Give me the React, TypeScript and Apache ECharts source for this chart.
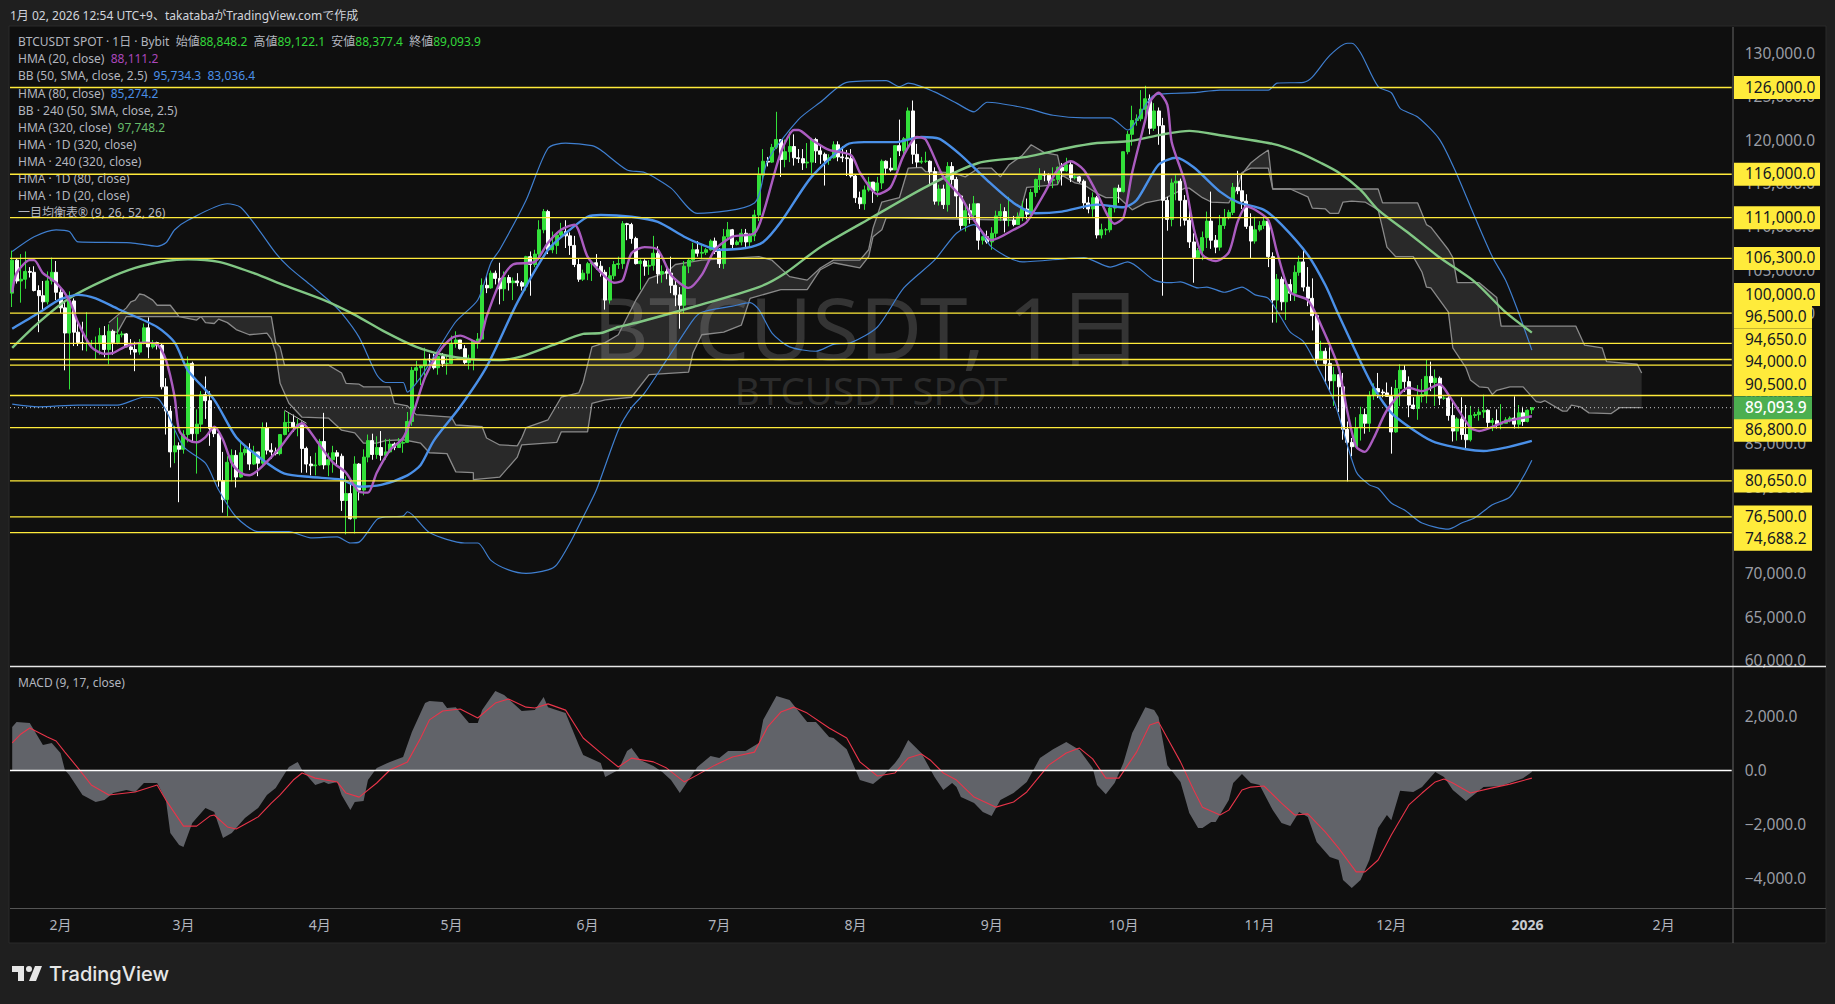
import { useEffect, useRef } from 'react';
import * as echarts from 'echarts';

const FONT = '"Noto Sans", "Noto Sans CJK JP", sans-serif';

// 日足 [open, close, low, high]（千USDT）
const jan25 = [[102.3,106.1,100.7,107.2],[106.1,103.7,103.4,106.3],[103.7,103.9,101.2,106.8],[103.9,104.8,102.8,107.1],[104.8,104.7,104.1,105.3],[104.7,102.6,102.5,105.4],[102.6,102.0,97.8,103.2],[102.0,101.3,100.3,103.7],[101.3,103.7,101.0,104.8],[103.7,104.7,103.3,106.4],[104.7,102.4,101.5,106.0]];
const feb25 = [[102.4,100.6,100.0,102.8],[100.6,97.7,93.4,101.4],[97.7,101.4,91.2,102.5],[101.4,97.8,96.2,101.7],[97.8,96.6,96.2,99.0],[96.6,96.5,95.7,99.0],[96.5,96.5,95.6,100.1],[96.5,96.5,96.2,96.9],[96.5,96.5,94.7,97.3],[96.5,97.4,95.2,98.3],[97.4,95.8,94.9,98.5],[95.8,97.9,94.1,98.7],[97.9,96.6,95.2,98.1],[96.6,97.5,96.4,99.5],[97.5,97.6,97.2,97.9],[97.6,96.1,96.1,97.7],[96.1,95.8,95.2,97.0],[95.8,95.5,93.3,96.7],[95.5,96.6,95.2,97.0],[96.6,98.3,96.4,98.8],[98.3,96.1,94.8,99.5],[96.1,96.6,95.9,96.9],[96.6,96.3,95.8,96.7],[96.3,91.5,91.2,96.5],[91.5,88.7,86.0,92.5],[88.7,84.0,82.2,89.3],[84.0,84.7,82.7,87.0],[84.7,84.3,78.2,85.1]];
const mar25 = [[84.3,86.0,83.8,86.5],[86.0,94.2,85.1,95.0],[94.2,86.1,85.1,94.4],[86.1,87.2,81.5,88.9],[87.2,90.6,86.3,91.0],[90.6,89.9,87.8,92.7],[89.9,86.7,84.7,91.0],[86.7,86.1,85.7,86.9],[86.1,80.7,80.0,86.3],[80.7,78.5,77.0,84.0],[78.5,82.8,76.6,83.5],[82.8,83.6,80.6,84.3],[83.6,81.1,79.9,84.2],[81.1,83.9,81.0,85.3],[83.9,84.3,83.6,84.6],[84.3,82.6,81.9,85.0],[82.6,84.0,82.5,84.7],[84.0,82.7,81.2,84.0],[82.7,86.8,82.5,87.4],[86.8,84.2,83.7,87.4],[84.2,84.0,83.2,85.0],[84.0,83.8,83.6,84.5],[83.8,86.0,83.6,86.0],[86.0,87.4,85.9,88.7],[87.4,87.4,86.3,88.5],[87.4,86.9,86.3,88.3],[86.9,87.2,85.8,87.8],[87.2,84.4,81.6,87.5],[84.4,82.6,81.6,84.6],[82.6,82.4,81.3,83.5],[82.4,82.5,81.3,83.9]];
const apr25 = [[82.5,85.2,82.4,85.5],[85.2,82.5,82.0,88.5],[82.5,83.1,81.2,83.9],[83.1,83.9,81.6,84.7],[83.9,83.5,82.4,84.2],[83.5,78.4,77.2,83.8],[78.4,79.2,74.5,81.2],[79.2,76.3,76.2,80.8],[76.3,82.6,74.6,83.5],[82.6,79.6,78.4,82.7],[79.6,83.4,79.0,84.3],[83.4,85.3,82.8,86.0],[85.3,83.7,83.1,86.1],[83.7,84.5,83.2,85.8],[84.5,83.6,83.0,86.4],[83.6,84.0,83.1,85.5],[84.0,84.9,83.9,85.5],[84.9,84.5,84.2,85.1],[84.5,85.0,84.5,85.6],[85.0,85.1,83.9,85.3],[85.1,87.5,85.1,88.6],[87.5,93.4,87.0,93.8],[93.4,93.7,91.9,94.5],[93.7,93.9,91.7,94.0],[93.9,94.7,92.8,96.0],[94.7,94.6,93.9,95.3],[94.6,93.7,93.5,95.3],[93.7,95.0,92.9,95.6],[95.0,94.2,93.8,95.4],[94.2,94.2,92.9,95.1]];
const may25 = [[94.2,96.5,94.1,97.4],[96.5,96.9,96.0,97.9],[96.9,95.9,95.8,96.9],[95.9,94.3,94.1,96.3],[94.3,94.7,93.5,95.2],[94.7,96.8,93.4,96.9],[96.8,97.0,95.9,97.7],[97.0,103.2,97.0,104.0],[103.2,102.9,102.3,104.3],[102.9,104.6,102.8,104.9],[104.6,104.0,103.3,104.9],[104.0,102.8,101.0,105.8],[102.8,104.1,101.4,104.8],[104.1,103.5,102.6,104.4],[103.5,103.7,101.5,104.1],[103.7,103.5,103.1,104.6],[103.5,103.1,102.6,103.7],[103.1,106.5,102.6,106.6],[106.5,105.6,102.0,107.1],[105.6,106.8,105.3,107.3],[106.8,109.6,106.1,110.7],[109.6,111.7,109.2,112.0],[111.7,107.3,106.8,111.9],[107.3,107.8,106.9,109.4],[107.8,109.0,106.8,109.3],[109.0,109.4,108.8,110.4],[109.4,108.9,107.5,110.7],[108.9,107.8,106.7,109.3],[107.8,105.6,105.3,108.9],[105.6,103.9,103.6,106.3],[103.9,104.6,103.7,105.0]];
const jun25 = [[104.6,105.7,103.8,105.9],[105.7,105.8,103.7,105.9],[105.8,105.4,105.0,106.8],[105.4,104.7,104.2,106.0],[104.7,101.5,100.4,105.0],[101.5,104.3,101.1,105.3],[104.3,105.6,103.9,106.0],[105.6,105.7,105.1,106.5],[105.7,110.3,105.1,110.6],[110.3,110.2,108.4,110.4],[110.2,108.6,108.0,110.4],[108.6,105.7,105.6,108.8],[105.7,106.0,102.7,106.2],[106.0,105.4,104.3,106.2],[105.4,105.5,104.4,106.1],[105.5,106.9,104.9,108.9],[106.9,104.5,103.4,107.7],[104.5,104.8,103.5,105.5],[104.8,104.6,103.9,105.3],[104.6,103.2,102.3,106.5],[103.2,102.1,100.8,104.0],[102.1,100.9,98.2,103.0],[100.9,105.4,100.0,106.0],[105.4,106.1,104.6,106.3],[106.1,107.3,105.9,108.1],[107.3,106.9,106.5,108.3],[106.9,107.0,106.2,108.0],[107.0,107.3,106.7,107.5],[107.3,108.3,107.2,108.5],[108.3,107.1,106.8,108.7]];
const jul25 = [[107.1,105.7,105.2,107.5],[105.7,108.8,105.1,109.7],[108.8,109.6,108.6,110.5],[109.6,107.9,107.3,109.7],[107.9,108.2,107.8,108.4],[108.2,109.2,107.8,109.7],[109.2,108.2,107.5,109.7],[108.2,108.9,107.5,109.2],[108.9,111.3,108.3,111.9],[111.3,115.9,110.6,116.8],[115.9,117.5,115.2,118.9],[117.5,117.4,116.9,118.0],[117.4,119.1,117.3,119.5],[119.1,120.0,118.9,123.2],[120.0,117.7,115.7,120.0],[117.7,118.6,116.8,120.0],[118.6,119.2,117.4,120.9],[119.2,117.9,117.0,120.6],[117.9,117.8,117.3,118.9],[117.8,117.3,116.5,118.9],[117.3,117.4,116.7,119.6],[117.4,120.0,116.1,120.2],[120.0,118.7,117.3,120.2],[118.7,118.3,117.2,119.4],[118.3,117.6,114.7,118.5],[117.6,117.9,117.1,118.3],[117.9,119.4,117.8,119.8],[119.4,118.0,117.5,119.8],[118.0,117.9,117.4,119.2],[117.9,117.8,115.8,118.8],[117.8,115.8,115.6,118.9]];
const aug25 = [[115.8,113.3,112.7,116.0],[113.3,112.6,112.0,114.0],[112.6,114.2,111.9,114.7],[114.2,115.1,114.0,115.7],[115.1,114.1,112.7,115.1],[114.1,115.0,113.4,115.7],[115.0,117.5,114.3,117.7],[117.5,116.7,115.9,117.6],[116.7,116.5,116.3,117.9],[116.5,119.3,116.5,119.3],[119.3,118.7,118.1,122.3],[118.7,120.1,118.2,120.3],[120.1,123.3,118.9,123.7],[123.3,118.3,117.2,124.5],[118.3,117.4,116.8,119.5],[117.4,117.5,117.2,118.0],[117.5,117.5,117.3,118.6],[117.5,116.3,114.7,117.6],[116.3,112.9,112.5,116.8],[112.9,114.3,112.4,114.8],[114.3,112.5,112.0,114.8],[112.5,116.9,111.7,117.4],[116.9,115.4,114.8,117.4],[115.4,113.5,111.0,115.7],[113.5,110.1,109.6,113.6],[110.1,111.8,109.4,112.4],[111.8,111.3,110.3,112.6],[111.3,112.6,110.9,113.5],[112.6,108.4,107.3,112.6],[108.4,108.8,107.9,108.9],[108.8,108.2,108.0,109.5]];
const sep25 = [[108.2,109.2,107.3,109.9],[109.2,111.2,108.7,111.8],[111.2,111.7,110.6,112.6],[111.7,110.7,109.3,112.2],[110.7,110.7,110.0,113.4],[110.7,110.2,110.0,111.2],[110.2,111.1,110.2,111.6],[111.1,112.0,110.6,112.9],[112.0,111.4,110.8,113.2],[111.4,113.9,111.0,114.3],[113.9,115.4,113.4,115.5],[115.4,116.0,114.2,116.7],[116.0,115.9,115.2,116.4],[115.9,115.3,114.8,116.1],[115.3,115.4,114.4,116.8],[115.4,116.8,114.9,116.9],[116.8,116.4,114.7,117.3],[116.4,117.1,116.3,117.9],[117.1,115.6,115.1,117.5],[115.6,115.7,115.4,116.1],[115.7,115.2,115.0,115.8],[115.2,112.7,112.0,115.4],[112.7,112.0,111.5,113.4],[112.0,113.3,111.1,113.9],[113.3,109.0,108.6,113.5],[109.0,109.6,108.6,110.3],[109.6,109.6,109.0,109.8],[109.6,112.1,109.3,112.4],[112.1,114.4,111.6,114.4],[114.4,114.0,112.7,114.8]];
const oct25 = [[114.0,118.6,113.9,118.6],[118.6,120.6,118.3,121.0],[120.6,122.2,119.3,123.9],[122.2,122.4,121.6,122.9],[122.4,123.5,122.1,125.7],[123.5,124.7,122.7,126.2],[124.7,121.3,120.6,125.2],[121.3,123.3,121.0,124.2],[123.3,121.6,119.4,123.7],[121.6,113.0,102.0,122.5],[113.0,110.8,109.5,113.4],[110.8,115.0,110.0,115.5],[115.0,115.2,113.0,116.0],[115.2,113.0,110.0,115.5],[113.0,110.7,110.1,113.6],[110.7,108.2,107.5,111.9],[108.2,106.4,103.5,109.2],[106.4,107.2,106.4,107.5],[107.2,108.7,106.1,109.4],[108.7,110.6,107.5,111.7],[110.6,108.4,107.4,114.0],[108.4,107.6,106.9,109.0],[107.6,110.1,107.2,111.3],[110.1,111.0,109.7,112.0],[111.0,111.6,110.8,111.9],[111.6,114.5,111.3,115.0],[114.5,114.1,113.7,116.4],[114.1,112.9,112.0,116.0],[112.9,110.0,109.7,113.7],[110.0,108.3,106.3,111.5],[108.3,109.6,108.0,111.1]];
const nov25 = [[109.6,110.1,109.4,110.6],[110.1,110.6,109.7,111.2],[110.6,106.5,105.3,110.7],[106.5,101.5,98.9,107.0],[101.5,103.9,98.9,104.5],[103.9,101.3,100.3,104.2],[101.3,103.3,99.2,104.0],[103.3,102.3,101.4,103.9],[102.3,104.7,101.4,105.5],[104.7,105.9,104.3,106.6],[105.9,103.0,102.5,107.5],[103.0,101.7,100.8,105.3],[101.7,99.7,98.0,104.0],[99.7,94.6,94.0,99.8],[94.6,95.6,94.6,96.8],[95.6,94.2,91.9,96.0],[94.2,92.2,91.1,96.6],[92.2,92.9,89.3,93.8],[92.9,91.5,88.6,92.9],[91.5,86.6,85.4,93.1],[86.6,85.1,80.6,87.5],[85.1,84.6,83.5,85.6],[84.6,86.8,84.7,88.0],[86.8,88.3,85.3,89.2],[88.3,87.3,86.1,89.0],[87.3,90.5,86.3,91.0],[90.5,91.3,90.0,91.9],[91.3,90.9,90.2,93.1],[90.9,90.8,90.3,91.2],[90.8,90.4,90.4,92.0]];
const dec25 = [[90.4,86.3,83.8,91.5],[86.3,91.3,86.2,92.3],[91.3,93.4,89.3,94.1],[93.4,92.1,90.9,94.0],[92.1,89.4,88.0,92.7],[89.4,89.0,88.9,90.3],[89.0,90.4,87.7,91.7],[90.4,90.6,89.7,92.4],[90.6,92.7,89.6,94.6],[92.7,92.0,91.0,94.4],[92.0,92.5,89.3,93.5],[92.5,90.2,89.4,92.7],[90.2,90.2,90.0,90.5],[90.2,88.2,87.6,90.5],[88.2,86.4,85.2,90.0],[86.4,87.8,85.3,88.0],[87.8,86.0,85.4,90.3],[86.0,85.4,84.4,89.4],[85.4,88.2,85.2,89.3],[88.2,88.3,87.9,88.6],[88.3,88.6,87.6,89.0],[88.6,88.8,87.9,90.6],[88.8,87.4,86.6,88.9],[87.4,87.6,86.4,87.9],[87.6,87.2,86.7,88.9],[87.2,87.3,86.6,89.5],[87.3,87.7,87.3,88.0],[87.7,87.9,87.4,88.1],[87.9,87.2,86.7,90.4],[87.2,88.5,86.7,89.4],[88.5,87.5,87.0,89.2]];
const jan26 = [[87.5,88.8,87.4,88.9],[88.85,89.09,88.38,89.12]];
const candles = [...jan25, ...feb25, ...mar25, ...apr25, ...may25, ...jun25, ...jul25, ...aug25, ...sep25, ...oct25, ...nov25, ...dec25, ...jan26];

// [足のインデックス, 千USDT]
const hma20 = [[0,102.4],[1,104.6],[4,106.1],[5,106.1],[7,104.6],[10,103.5],[13,101.5],[15,98.9],[18,96.1],[21,95.3],[23,95.4],[26,96.2],[30,96.6],[33,96.4],[35,94.6],[37,90.3],[38,86.5],[40,85.4],[42,85.1],[44,85.7],[46,86.9],[48,85.4],[50,82.7],[52,81.6],[54,81.3],[56,81.9],[59,83.4],[61,84.5],[64,86.5],[66,87.3],[67,86.9],[70,84.8],[73,82.8],[76,81.6],[79,79.4],[81,79.3],[83,81.6],[86,84.2],[89,85.6],[91,88.0],[94,92.6],[97,95.4],[100,97.1],[102,97.4],[106,96.6],[108,99.6],[111,103.5],[114,105.6],[119,105.9],[122,108.1],[125,109.6],[128,110.2],[131,106.5],[134,104.7],[137,103.5],[139,103.8],[141,106.9],[144,107.6],[147,107.3],[150,104.4],[154,102.9],[157,104.4],[160,107.3],[164,108.8],[169,109.2],[171,111.5],[175,118.5],[178,121.1],[179,121.1],[182,120.0],[186,118.8],[191,118.2],[193,116.2],[197,113.7],[200,114.5],[203,118.2],[206,120.3],[208,120.0],[212,115.7],[216,113.4],[219,110.7],[223,108.4],[228,109.6],[231,110.5],[235,113.8],[238,116.5],[241,117.5],[244,116.5],[247,113.8],[251,110.3],[253,111.0],[255,116.2],[258,122.3],[259,124.3],[261,125.4],[263,124.0],[264,119.7],[267,115.1],[269,109.8],[271,106.7],[274,106.0],[277,107.0],[279,110.5],[281,112.3],[283,111.9],[286,110.7],[288,107.0],[291,102.4],[295,101.5],[298,98.6],[302,93.7],[304,88.6],[306,84.6],[308,84.0],[310,85.6],[313,88.8],[318,91.4],[321,91.0],[325,91.8],[327,90.6],[332,86.8],[334,86.4],[340,87.5],[346,88.11]];
const hma80 = [[0,98.2],[6,100.0],[11,101.6],[15,102.1],[19,101.7],[24,100.5],[33,98.4],[37,96.6],[40,93.4],[46,90.0],[51,85.7],[57,83.1],[62,81.5],[68,81.1],[75,80.8],[79,80.0],[84,80.2],[90,81.3],[93,82.5],[96,85.3],[102,89.2],[108,93.8],[115,101.2],[122,107.3],[126,109.2],[131,111.1],[134,111.3],[141,111.1],[147,110.5],[153,108.8],[157,107.9],[161,107.3],[167,107.5],[171,108.2],[175,110.5],[182,115.7],[190,119.4],[194,119.7],[201,119.7],[207,120.3],[211,120.1],[216,118.2],[222,115.3],[228,112.7],[233,111.5],[239,111.7],[247,112.5],[253,112.2],[256,113.0],[261,117.1],[265,117.9],[269,116.8],[275,114.0],[279,112.8],[285,111.9],[289,110.2],[295,106.7],[299,103.2],[302,99.8],[307,94.4],[310,91.4],[314,88.5],[320,86.2],[324,85.1],[331,84.3],[335,84.1],[340,84.5],[346,85.27]];
const hma320 = [[0,96.0],[6,98.9],[13,101.7],[21,103.8],[28,105.2],[35,106.0],[40,106.2],[47,105.9],[55,104.6],[62,103.2],[71,101.5],[78,99.8],[85,97.8],[92,96.1],[98,95.2],[104,94.7],[111,94.6],[116,95.0],[123,96.3],[130,97.6],[134,97.7],[138,98.4],[143,99.0],[155,100.7],[170,103.0],[176,104.6],[184,107.6],[196,111.1],[209,114.8],[220,117.3],[231,118.0],[240,119.0],[247,119.6],[254,119.8],[262,120.6],[268,121.0],[275,120.5],[287,119.5],[293,118.5],[298,117.3],[302,116.2],[307,114.2],[311,111.9],[318,109.2],[325,106.4],[333,103.6],[340,100.1],[346,97.75]];
const bbUpper = [[0,107.1],[5,108.8],[10,109.6],[13,109.4],[15,108.2],[27,108.1],[33,107.7],[35,108.1],[37,109.6],[40,110.7],[49,112.6],[52,112.2],[56,109.7],[60,106.9],[63,105.3],[68,103.2],[72,101.5],[75,100.0],[79,97.2],[83,92.9],[85,92.0],[89,92.0],[90,90.9],[93,92.6],[96,95.0],[101,99.0],[106,101.5],[109,105.8],[111,107.3],[117,113.0],[122,119.0],[126,119.6],[132,119.3],[134,118.8],[140,116.5],[144,116.2],[150,114.4],[156,111.5],[169,112.7],[172,117.6],[179,122.3],[184,124.3],[190,126.6],[199,126.8],[202,126.1],[204,126.5],[210,125.5],[215,124.2],[219,123.2],[222,124.3],[231,123.6],[237,122.8],[244,122.5],[250,122.5],[254,121.1],[260,125.1],[269,125.4],[275,125.7],[286,125.7],[288,126.5],[294,126.6],[296,127.2],[300,129.7],[304,131.1],[305,131.1],[307,130.0],[311,126.1],[314,125.4],[316,123.6],[320,122.6],[325,120.0],[329,115.9],[333,111.1],[337,106.5],[340,103.8],[343,100.0],[346,95.73]];
const bbLower = [[0,89.5],[6,89.2],[15,89.4],[24,89.4],[30,90.3],[33,90.2],[35,88.8],[39,84.6],[44,82.7],[47,79.6],[51,76.5],[56,74.8],[63,74.8],[68,74.1],[74,74.2],[77,73.5],[79,73.6],[83,76.2],[85,76.5],[89,76.6],[90,77.1],[95,74.7],[103,73.5],[106,73.5],[109,71.5],[113,70.4],[117,70.0],[122,70.4],[124,71.0],[127,73.5],[130,76.5],[133,79.6],[138,86.5],[141,89.1],[144,90.8],[149,94.6],[155,99.2],[157,100.1],[164,100.8],[168,101.2],[170,100.4],[173,97.7],[177,96.1],[183,95.6],[187,96.4],[191,96.6],[197,98.4],[203,102.9],[210,106.1],[215,109.2],[219,110.2],[223,107.6],[230,105.9],[244,106.4],[250,105.3],[254,105.9],[260,103.8],[264,103.5],[266,103.6],[270,102.9],[272,103.0],[276,102.4],[280,103.0],[283,102.1],[286,101.7],[289,99.4],[291,97.8],[294,96.7],[297,94.0],[301,89.8],[306,81.7],[309,80.2],[311,79.8],[314,78.1],[317,77.3],[321,75.8],[327,75.1],[330,75.8],[333,76.4],[337,77.9],[341,78.8],[344,81.1],[346,83.04]];
const kumoTop = [[22,98.9],[26,100.6],[27,101.3],[28,101.5],[29,102.2],[30,102.1],[32,101.5],[33,100.9],[36,100.9],[38,99.6],[59,99.6],[60,96.6],[61,96.1],[62,94.0],[72,94.0],[75,93.1],[76,91.9],[79,91.8],[80,91.5],[86,91.5],[87,89.6],[90,89.3],[92,88.3],[100,88.0],[101,87.1],[107,86.9],[108,85.6],[111,84.8],[115,84.7],[116,85.6],[117,86.8],[122,87.7],[125,90.3],[129,90.8],[130,92.0],[132,96.1],[135,96.6],[138,97.5],[142,101.5],[145,104.0],[149,104.7],[151,105.6],[157,106.1],[170,106.5],[173,106.1],[177,104.2],[181,103.8],[184,105.2],[187,106.1],[193,106.1],[195,107.3],[196,109.8],[198,112.8],[202,113.3],[204,116.7],[207,116.8],[208,116.3],[214,116.2],[217,115.7],[220,116.7],[223,116.7],[225,115.7],[227,117.1],[230,118.2],[232,119.4],[235,118.5],[238,118.2],[239,115.9],[280,116.0],[282,117.3],[284,118.1],[286,118.8],[287,114.3],[311,114.3],[312,112.7],[320,112.7],[322,110.2],[323,109.9],[327,107.3],[328,106.4],[329,103.5],[334,103.5],[338,101.8],[339,98.5],[356,98.5],[358,96.3],[362,96.0],[363,94.4],[370,94.1],[371,93.1]];
const kumoBottom = [[22,97.8],[24,97.8],[26,99.6],[38,99.6],[42,99.2],[43,99.6],[44,98.9],[46,98.8],[47,99.3],[49,98.9],[51,98.1],[54,97.5],[58,97.7],[59,97.0],[60,95.4],[61,91.9],[63,89.6],[66,88.0],[72,87.9],[75,86.5],[78,86.2],[80,85.0],[83,85.0],[85,85.3],[89,85.4],[93,85.0],[95,83.9],[99,83.8],[101,81.7],[105,81.6],[105,80.8],[111,81.1],[115,83.4],[116,84.8],[124,85.1],[125,86.3],[131,86.3],[132,89.6],[135,90.0],[141,90.3],[145,92.9],[154,93.2],[155,95.4],[157,97.5],[162,97.8],[166,98.6],[168,101.7],[175,102.7],[181,102.7],[184,105.0],[187,105.8],[193,105.2],[195,106.5],[196,108.8],[198,109.6],[199,111.0],[229,110.7],[231,114.5],[238,114.8],[239,115.9],[242,115.0],[244,114.8],[247,113.8],[249,113.3],[252,113.3],[255,111.9],[258,112.7],[262,113.1],[267,114.4],[268,114.4],[271,113.3],[273,112.8],[277,112.7],[279,114.5],[280,116.2],[282,116.7],[286,116.7],[287,114.3],[291,114.3],[295,113.4],[296,112.1],[299,112.0],[300,111.5],[302,111.5],[303,112.8],[305,112.9],[308,112.8],[311,111.9],[312,109.8],[313,107.6],[315,106.5],[319,106.5],[321,104.7],[322,103.0],[323,102.9],[327,100.1],[328,96.0],[331,93.7],[332,92.3],[334,91.5],[336,91.4],[337,90.6],[338,91.1],[341,91.5],[344,91.5],[347,89.8],[348,89.7],[349,89.9],[353,88.7],[354,88.7],[355,89.4],[357,89.2],[359,88.5],[364,88.4],[366,89.1],[371,89.1]];
const trendNote = [[62,88.8],[67,87.3]];

const macdValues = [[0,1590],[1,1770],[4,1730],[7,920],[9,1000],[11,630],[12,0],[13,-180],[16,-920],[19,-1180],[21,-1110],[23,-850],[26,-740],[28,-810],[30,-480],[33,-480],[35,-1110],[36,-2320],[38,-2770],[39,-2840],[41,-1960],[44,-1400],[46,-1550],[48,-2510],[50,-2320],[53,-1770],[56,-1400],[58,-920],[60,-660],[63,110],[65,300],[66,0],[68,-370],[69,-550],[71,-440],[72,-520],[74,-440],[75,-920],[77,-1480],[78,-1180],[80,-1140],[81,-370],[83,70],[86,300],[89,480],[91,1400],[94,2470],[95,2550],[98,2510],[99,2290],[101,2320],[104,1730],[106,1730],[107,2210],[110,2920],[112,2770],[116,2180],[119,2210],[121,2690],[122,2320],[126,2100],[129,920],[130,550],[134,260],[135,-260],[138,0],[140,700],[141,810],[143,370],[146,150],[148,-70],[150,-370],[152,-850],[154,-370],[156,110],[159,520],[161,440],[163,700],[167,700],[170,1000],[171,1850],[174,2730],[177,2580],[181,1770],[183,1770],[186,1220],[187,1180],[190,770],[193,-370],[196,-520],[198,-260],[201,260],[202,480],[204,1110],[207,630],[210,-260],[212,-740],[214,-480],[215,-630],[216,-1000],[219,-1220],[221,-1550],[223,-1700],[225,-1110],[228,-850],[231,-440],[234,440],[237,770],[240,1030],[243,740],[246,70],[247,-550],[249,-890],[251,-480],[253,260],[255,1370],[258,2320],[260,2210],[261,1960],[263,180],[266,-440],[268,-1590],[270,-2140],[271,-2140],[273,-1920],[274,-1920],[277,-1110],[278,-480],[280,-150],[282,-480],[284,-550],[287,-1480],[289,-1960],[291,-2070],[293,-1550],[295,-1730],[297,-2660],[300,-3210],[302,-3320],[303,-4060],[305,-4350],[307,-4060],[309,-3320],[311,-2140],[313,-1660],[314,-1850],[316,-770],[319,-810],[321,-630],[324,-70],[326,-260],[328,-740],[331,-1140],[335,-630],[339,-590],[344,-300],[346,-70]];
const macdSignal = [[0,1000],[2,1330],[4,1550],[8,1220],[10,1070],[12,660],[15,70],[18,-550],[22,-920],[28,-810],[33,-550],[35,-1110],[39,-2070],[42,-2070],[45,-1700],[46,-1660],[49,-2100],[51,-2180],[56,-1730],[59,-1220],[61,-920],[64,-370],[66,-110],[69,-300],[74,-440],[76,-850],[79,-1000],[83,-480],[86,0],[90,300],[93,1180],[95,1850],[98,2180],[102,2250],[106,1920],[110,2470],[113,2620],[117,2320],[119,2290],[122,2440],[126,2210],[130,1180],[134,630],[138,110],[141,440],[146,300],[149,70],[153,-440],[156,-180],[160,180],[164,480],[169,660],[172,1590],[175,2140],[178,2320],[181,2100],[186,1550],[190,1180],[193,300],[197,-220],[201,-110],[204,440],[207,590],[209,370],[212,-110],[215,-370],[219,-1000],[224,-1370],[228,-1180],[231,-810],[236,180],[240,630],[243,810],[246,410],[249,-300],[252,-300],[256,660],[259,1660],[261,1770],[263,1180],[266,300],[269,-740],[271,-1370],[275,-1660],[277,-1480],[280,-740],[282,-630],[285,-590],[289,-1220],[292,-1660],[295,-1620],[299,-2290],[302,-2880],[306,-3760],[308,-3760],[311,-3320],[314,-2400],[318,-1290],[321,-850],[324,-440],[326,-330],[328,-480],[332,-850],[337,-660],[341,-520],[346,-300]];

const priceLevels = [126000, 116000, 111000, 106300, 100000, 96500, 94650, 94000, 90500, 86800, 80650, 76500, 74688.2];
const lastClose = 89093.9;
const priceTicks = [130000, 125000, 120000, 115000, 110000, 105000, 100000, 95000, 90000, 85000, 80000, 75000, 70000, 65000, 60000];
const macdTicks = [2000, 0, -2000, -4000];

const legendRows = [
  '{d|BTCUSDT SPOT · 1日 · Bybit  始値}{g|88,848.2}{d|  高値}{g|89,122.1}{d|  安値}{g|88,377.4}{d|  終値}{g|89,093.9}',
  '{d|HMA (20, close)  }{p|88,111.2}',
  '{d|BB (50, SMA, close, 2.5)  }{b|95,734.3  83,036.4}',
  '{d|HMA (80, close)  }{b|85,274.2}',
  '{d|BB · 240 (50, SMA, close, 2.5)}',
  '{d|HMA (320, close)  }{m|97,748.2}',
  '{d|HMA · 1D (320, close)}',
  '{d|HMA · 240 (320, close)}',
  '{d|HMA · 1D (80, close)}',
  '{d|HMA · 1D (20, close)}',
  '{d|一目均衡表® (9, 26, 52, 26)}',
];

// 右端の余白（未来の足）も含めたカテゴリ
const BAND_COUNT = 392;
const categories = Array.from({ length: BAND_COUNT }, (_, i) =>
  new Date(Date.UTC(2025, 0, 21 + i)).toISOString().slice(0, 10)
);

const YELLOW = '#ffeb3b';
const COLORS = { up: '#33e03a', down: '#ffffff', hma20: '#ab5cc0', blue: '#4a90e8', thin: '#3f7fd0', green: '#81c784' };

// タグが重ならないようにずらす量(px)
const tagNudges = [0, 0, 0, 0, -18.5, -26.5, -19.5, -3.2, -11, 2.6, 0, 0, 6.6];

const fmtPrice = (v: number) =>
  v.toLocaleString('en-US', { minimumFractionDigits: 1, maximumFractionDigits: 1 }).replace('-', '−');

const k = (rows: number[][]) => rows.map(([x, v]) => [x, v * 1000]);

echarts.graphic.registerShape(
  'tvLogo',
  echarts.graphic.extendPath('M14 6H2v6h6v9h6V6Zm12 15h-7l6-15h7l-6 15Zm-7-9a3 3 0 1 0 0-6 3 3 0 0 0 0 6Z', {})
);

function overlay(name: string, data: number[][], color: string, width: number, z = 3) {
  return {
    name,
    type: 'line',
    xAxisIndex: 0,
    yAxisIndex: 0,
    data: k(data),
    showSymbol: false,
    symbol: 'none',
    smooth: 0.25,
    z,
    lineStyle: { color, width },
  };
}

function renderKumo(params: any, api: any) {
  const top = k(kumoTop).map((p) => api.coord(p));
  const bottom = k(kumoBottom).map((p) => api.coord(p)).reverse();
  return {
    type: 'polygon',
    shape: { points: [...top, ...bottom] },
    style: { fill: 'rgba(255,255,255,0.11)' },
  };
}

function renderLevel(params: any, api: any) {
  const v = api.value(1);
  const y = api.coord([0, v])[1];
  const label = fmtPrice(v);
  const cs = params.coordSys;
  const tagY = y + tagNudges[params.dataIndex];
  return {
    type: 'group',
    children: [
      { type: 'line', shape: { x1: cs.x, y1: y, x2: cs.x + cs.width, y2: y }, style: { stroke: YELLOW, lineWidth: 1.3 } },
      { type: 'rect', shape: { x: 1734, y: tagY - 11.5, width: label.length > 8 ? 86 : 78, height: 23 }, style: { fill: YELLOW } },
      {
        type: 'text',
        style: { x: 1745, y: tagY - 1, text: label, fill: '#131722', font: `15.5px ${FONT}`, textAlign: 'left', textVerticalAlign: 'middle' },
      },
    ],
  };
}

function renderLast(params: any, api: any) {
  const v = api.value(1);
  const y = api.coord([0, v])[1];
  const cs = params.coordSys;
  return {
    type: 'group',
    children: [
      { type: 'line', shape: { x1: cs.x, y1: y, x2: cs.x + cs.width, y2: y }, style: { stroke: '#c8c8c8', lineWidth: 1, lineDash: [1, 3] } },
      { type: 'rect', shape: { x: 1734, y: y - 11.5, width: 78, height: 23 }, style: { fill: '#4caf50' } },
      {
        type: 'text',
        style: { x: 1745, y: y - 1, text: fmtPrice(v), fill: '#ffffff', font: `500 15.5px ${FONT}`, textAlign: 'left', textVerticalAlign: 'middle' },
      },
    ],
  };
}

export default function App() {
  const chartRef = useRef<HTMLDivElement>(null);

  useEffect(() => {
    if (!chartRef.current) return;
    document.body.style.margin = '0';
    const chart = echarts.init(chartRef.current, undefined, { renderer: 'svg' });

    const legendRich = {
      d: { fill: '#b2b5be', fontSize: 12, fontFamily: FONT },
      g: { fill: '#33d63a', fontSize: 12, fontFamily: FONT },
      p: { fill: '#ab47bc', fontSize: 12, fontFamily: FONT },
      b: { fill: '#4a8fe7', fontSize: 12, fontFamily: FONT },
      m: { fill: '#66bb6a', fontSize: 12, fontFamily: FONT },
    };

    const option = {
      animation: false,
      backgroundColor: '#1f1f1f',
      textStyle: { fontFamily: FONT },
      grid: [
        { left: 10, top: 27, width: 1721.7, height: 639 },
        { left: 10, top: 667, width: 1721.7, height: 241 },
      ],
      xAxis: [
        {
          type: 'category',
          gridIndex: 0,
          data: categories,
          boundaryGap: true,
          axisLine: { show: false },
          axisTick: { show: false },
          axisLabel: { show: false },
        },
        {
          type: 'category',
          gridIndex: 1,
          data: categories,
          boundaryGap: true,
          axisLine: { show: false },
          axisTick: { show: false },
          axisLabel: {
            color: '#b2b5be',
            fontSize: 14,
            margin: 9,
            interval: (i: number, value: string) => value.endsWith('-01'),
            formatter: (value: string) => {
              if (value === '2026-01-01') return '{y|2026}';
              return `${Number(value.slice(5, 7))}月`;
            },
            rich: { y: { fontWeight: 'bold', fontSize: 14, color: '#c8cad0' } },
          },
        },
      ],
      yAxis: [
        {
          type: 'value',
          gridIndex: 0,
          position: 'right',
          min: 59322,
          max: 132974,
          splitLine: { show: false },
          axisLine: { show: false },
          axisTick: { show: false },
          axisLabel: {
            customValues: priceTicks,
            color: '#9a9da5',
            fontSize: 15.5,
            margin: 13,
            padding: [0, 0, 3, 0],
            formatter: (v: number) => fmtPrice(v),
          },
        },
        {
          type: 'value',
          gridIndex: 1,
          position: 'right',
          min: -5092,
          max: 3801,
          splitLine: { show: false },
          axisLine: { show: false },
          axisTick: { show: false },
          axisLabel: {
            customValues: macdTicks,
            color: '#9a9da5',
            fontSize: 15.5,
            margin: 13,
            padding: [0, 0, 3, 0],
            formatter: (v: number) => fmtPrice(v),
          },
        },
      ],
      graphic: [
        { type: 'rect', z: -10, shape: { x: 9, y: 26, width: 1817, height: 917 }, style: { fill: '#0f0f0f', stroke: '#2a2a2a', lineWidth: 1 } },
        { type: 'text', z: -9, style: { x: 868, y: 326, text: 'BTCUSDT, 1日', fill: '#343434', font: `86px ${FONT}`, textAlign: 'center', textVerticalAlign: 'middle' } },
        { type: 'text', z: -9, style: { x: 871, y: 390, text: 'BTCUSDT SPOT', fill: '#2b2b2b', font: `38.5px ${FONT}`, textAlign: 'center', textVerticalAlign: 'middle' } },
        { type: 'line', z: -8, shape: { x1: 1733, y1: 27, x2: 1733, y2: 943 }, style: { stroke: '#666666', lineWidth: 1 } },
        { type: 'line', z: 1, shape: { x1: 10, y1: 666.5, x2: 1826, y2: 666.5 }, style: { stroke: '#e8e8e8', lineWidth: 1.3 } },
        { type: 'line', z: -8, shape: { x1: 10, y1: 908.5, x2: 1826, y2: 908.5 }, style: { stroke: '#555555', lineWidth: 1 } },
        { type: 'text', style: { x: 10, y: 15, text: '1月 02, 2026 12:54 UTC+9、takatabaがTradingView.comで作成', fill: '#d1d4dc', font: `12px ${FONT}`, textVerticalAlign: 'middle' } },
        ...legendRows.map((row, i) => ({
          type: 'text',
          z: 1,
          style: { x: 18, y: 41.7 + i * 17.1, text: row, rich: legendRich, textVerticalAlign: 'middle' },
        })),
        { type: 'text', z: 1, style: { x: 18, y: 682, text: 'MACD (9, 17, close)', fill: '#b2b5be', font: `12px ${FONT}`, textVerticalAlign: 'middle' } },
        { type: 'tvLogo', x: 10, y: 960, style: { fill: '#e6e6e6' } },
        { type: 'text', style: { x: 49, y: 974, text: 'TradingView', fill: '#e6e6e6', font: `500 20px Inter, ${FONT}`, textVerticalAlign: 'middle' } },
      ],
      series: [
        {
          type: 'custom',
          xAxisIndex: 0,
          yAxisIndex: 0,
          z: 1,
          silent: true,
          data: [[0, 90000]],
          renderItem: renderKumo,
        },
        { ...overlay('kumoTop', kumoTop, '#8a8a8a', 1.3, 1), smooth: false },
        { ...overlay('kumoBottom', kumoBottom, '#8a8a8a', 1.3, 1), smooth: false },
        overlay('bbUpper', bbUpper, COLORS.thin, 1.2),
        overlay('bbLower', bbLower, COLORS.thin, 1.2),
        {
          type: 'candlestick',
          xAxisIndex: 0,
          yAxisIndex: 0,
          z: 2,
          barWidth: 3.5,
          data: candles.map((c) => c.map((v) => v * 1000)),
          itemStyle: { color: COLORS.up, color0: COLORS.down, borderColor: COLORS.up, borderColor0: COLORS.down, borderWidth: 1 },
        },
        overlay('hma320', hma320, COLORS.green, 2.4),
        overlay('hma80', hma80, COLORS.blue, 2.4),
        overlay('hma20', hma20, COLORS.hma20, 2.4),
        { ...overlay('note', trendNote, '#b8b8b8', 1), smooth: false },
        {
          type: 'custom',
          xAxisIndex: 0,
          yAxisIndex: 0,
          z: 6,
          silent: true,
          encode: { x: 0, y: 1 },
          data: [[0, lastClose]],
          renderItem: renderLast,
        },
        {
          type: 'custom',
          xAxisIndex: 0,
          yAxisIndex: 0,
          z: 5,
          silent: true,
          encode: { x: 0, y: 1 },
          data: priceLevels.map((v) => [0, v]),
          renderItem: renderLevel,
        },
        {
          name: 'MACD',
          type: 'line',
          xAxisIndex: 1,
          yAxisIndex: 1,
          data: macdValues,
          symbol: 'none',
          z: 2,
          lineStyle: { width: 0 },
          areaStyle: { color: '#616369', opacity: 1, origin: 0 },
        },
        {
          name: 'Signal',
          type: 'line',
          xAxisIndex: 1,
          yAxisIndex: 1,
          data: macdSignal,
          symbol: 'none',
          z: 3,
          lineStyle: { color: '#e8354a', width: 1.1 },
          markLine: {
            silent: true,
            symbol: 'none',
            label: { show: false },
            lineStyle: { color: '#ffffff', type: 'solid', width: 1.3 },
            data: [{ yAxis: 0 }],
          },
        },
      ],
    };

    chart.setOption(option as any);
    return () => chart.dispose();
  }, []);

  return <div ref={chartRef} style={{ position: 'absolute', left: 0, top: 0, width: 1835, height: 1004 }} />;
}
